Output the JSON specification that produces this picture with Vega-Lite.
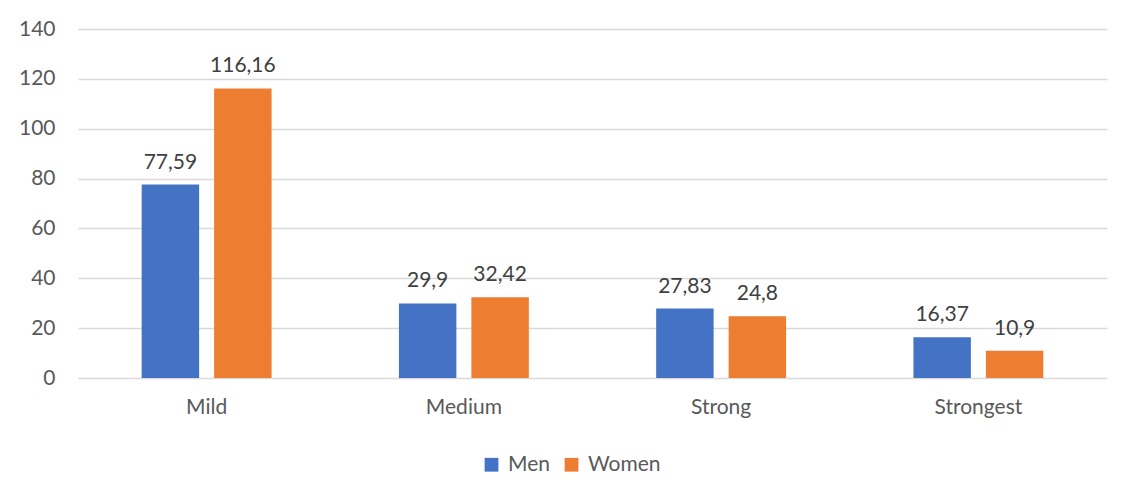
{
  "$schema": "https://vega.github.io/schema/vega-lite/v6.json",
  "width": 1029,
  "height": 349,
  "autosize": {"type": "none"},
  "padding": {"left": 78, "top": 29, "right": 29, "bottom": 123},
  "background": "white",
  "config": {
    "locale": {"number": {"decimal": ",", "thousands": ".", "grouping": [3], "currency": ["", ""]}},
    "view": {"stroke": null},
    "font": "Lato",
    "text": {"font": "Lato"}
  },
  "data": {
    "values": [
      {"category": "Mild", "sex": "Men", "value": 77.59},
      {"category": "Mild", "sex": "Women", "value": 116.16},
      {"category": "Medium", "sex": "Men", "value": 29.9},
      {"category": "Medium", "sex": "Women", "value": 32.42},
      {"category": "Strong", "sex": "Men", "value": 27.83},
      {"category": "Strong", "sex": "Women", "value": 24.8},
      {"category": "Strongest", "sex": "Men", "value": 16.37},
      {"category": "Strongest", "sex": "Women", "value": 10.9}
    ]
  },
  "encoding": {
    "x": {
      "field": "category", "type": "nominal",
      "sort": ["Mild", "Medium", "Strong", "Strongest"],
      "scale": {"paddingInner": 0.495, "paddingOuter": 0.2475},
      "axis": {"title": null, "labelAngle": 0, "domain": false, "ticks": false, "labelPadding": 18, "labelFontSize": 21, "labelColor": "#595959", "labelFont": "Lato"}
    },
    "xOffset": {
      "field": "sex", "type": "nominal",
      "sort": ["Men", "Women"],
      "scale": {"paddingInner": 0.207, "paddingOuter": 0}
    },
    "y": {
      "field": "value", "type": "quantitative",
      "scale": {"domain": [0, 140], "nice": false},
      "axis": {"title": null, "values": [0, 20, 40, 60, 80, 100, 120, 140], "domain": false, "ticks": false, "labelPadding": 23, "labelFontSize": 21, "labelColor": "#595959", "labelFont": "Lato", "gridColor": "#d9d9d9", "gridWidth": 1.3}
    }
  },
  "layer": [
    {
      "mark": {"type": "bar"},
      "encoding": {
        "color": {
          "field": "sex", "type": "nominal",
          "sort": ["Men", "Women"],
          "scale": {"domain": ["Men", "Women"], "range": ["#4472C4", "#ED7D31"]},
          "legend": {
            "title": null, "orient": "none", "direction": "horizontal",
            "legendX": 403, "legendY": 425,
            "symbolType": "square", "symbolSize": 190, "symbolStrokeWidth": 0,
            "labelFontSize": 21, "labelColor": "#595959", "labelFont": "Lato",
            "columnPadding": 11, "labelOffset": 6
          }
        }
      }
    },
    {
      "mark": {"type": "text", "baseline": "alphabetic", "dy": -16, "fontSize": 21, "color": "#404040"},
      "encoding": {
        "text": {"field": "value", "type": "quantitative", "format": ".2~f"}
      }
    }
  ]
}
